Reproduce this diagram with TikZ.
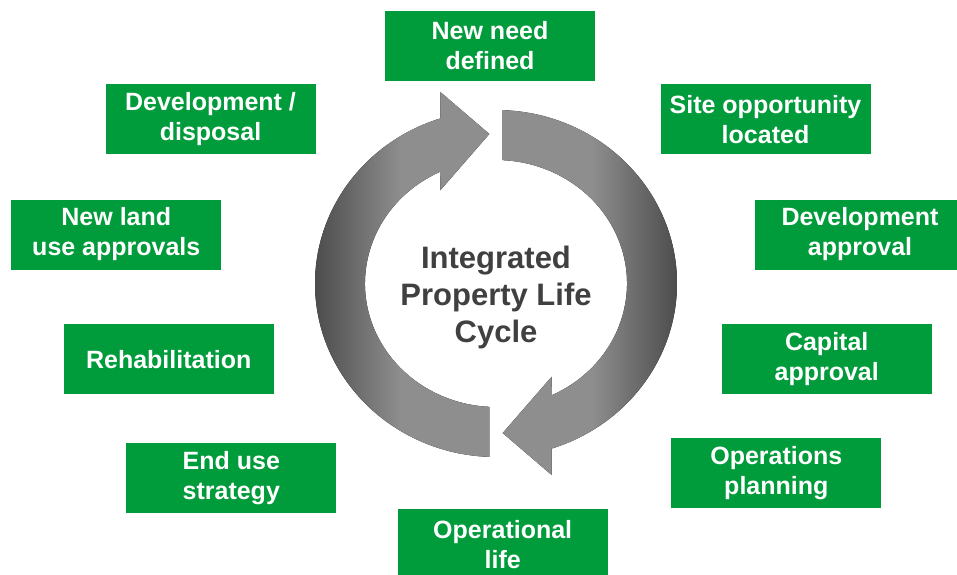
\documentclass[tikz,border=0pt]{standalone}
\usepackage{fontspec}
\setmainfont{Liberation Sans}
\usetikzlibrary{calc}

\definecolor{stepgreen}{RGB}{0,155,58}
\definecolor{centretext}{RGB}{64,64,64}
\definecolor{arclight}{RGB}{142,142,142}
\definecolor{arcdark}{RGB}{74,74,74}

% horizontal gradients for the two curved arrows (bbox mapped to 25bp..75bp)
\pgfdeclarehorizontalshading{arcright}{100bp}{color(0bp)=(arclight); color(25bp)=(arclight); color(50bp)=(arclight); color(75bp)=(arcdark); color(100bp)=(arcdark)}
\pgfdeclarehorizontalshading{arcleft}{100bp}{color(0bp)=(arcdark); color(25bp)=(arcdark); color(50bp)=(arclight); color(75bp)=(arclight); color(100bp)=(arclight)}

\tikzset{
  stepbox/.style={fill=stepgreen, text=white, font=\bfseries\fontsize{25}{30}\selectfont,
    minimum width=210pt, minimum height=70pt, inner sep=0pt, align=center},
  centrelabel/.style={text=centretext, font=\bfseries\fontsize{31}{37}\selectfont, align=center}
}

\begin{document}
\begin{tikzpicture}[x=1pt,y=1pt]
\useasboundingbox (0,0) rectangle (957,574);
\clip (0,0) rectangle (957,574);
\fill[white] (0,0) rectangle (957,574);

\coordinate (C) at (496,290.5);

% right-hand arrow: from the top, clockwise down to the bottom
\fill[shading=arcright]
  ($(C)+(87.9:181 and 173.5)$)
  arc[start angle=87.9, end angle=-72.1, x radius=181, y radius=173.5]
  -- (551.7,99) -- (502.7,141) -- (551.7,197.3)
  -- ($(C)+(-64.8:131 and 123.5)$)
  arc[start angle=-64.8, end angle=87.1, x radius=131, y radius=123.5]
  -- cycle;

% left-hand arrow: from the bottom, clockwise up to the top
\fill[shading=arcleft]
  ($(C)+(267.9:181 and 173.5)$)
  arc[start angle=267.9, end angle=107.9, x radius=181, y radius=173.5]
  -- (440.3,482) -- (489.3,440) -- (440.3,383.7)
  -- ($(C)+(115.2:131 and 123.5)$)
  arc[start angle=115.2, end angle=267.1, x radius=131, y radius=123.5]
  -- cycle;

\node[centrelabel] (cycle) at (496,277) {Integrated\\Property Life\\Cycle};

\node[stepbox] (need)   at (490,528)   {New need\\defined};
\node[stepbox] (site)   at (765.5,454.7) {Site opportunity\\located};
\node[stepbox] (devapp) at (860,339.5) {Development\\approval};
\node[stepbox] (capital) at (826.7,214.7) {Capital\\approval};
\node[stepbox] (opsplan) at (776.3,100.7) {Operations\\planning};
\node[stepbox] (oplife) at (502.7,29.7) {Operational\\life};
\node[stepbox] (enduse) at (231.3,95.7) {End use\\strategy};
\node[stepbox] (rehab)  at (168.7,214.7) {Rehabilitation};
\node[stepbox] (newland) at (116.3,339.5) {New land\\use approvals};
\node[stepbox] (devdisp) at (210.5,454.7) {Development /\\disposal};
\end{tikzpicture}
\end{document}
